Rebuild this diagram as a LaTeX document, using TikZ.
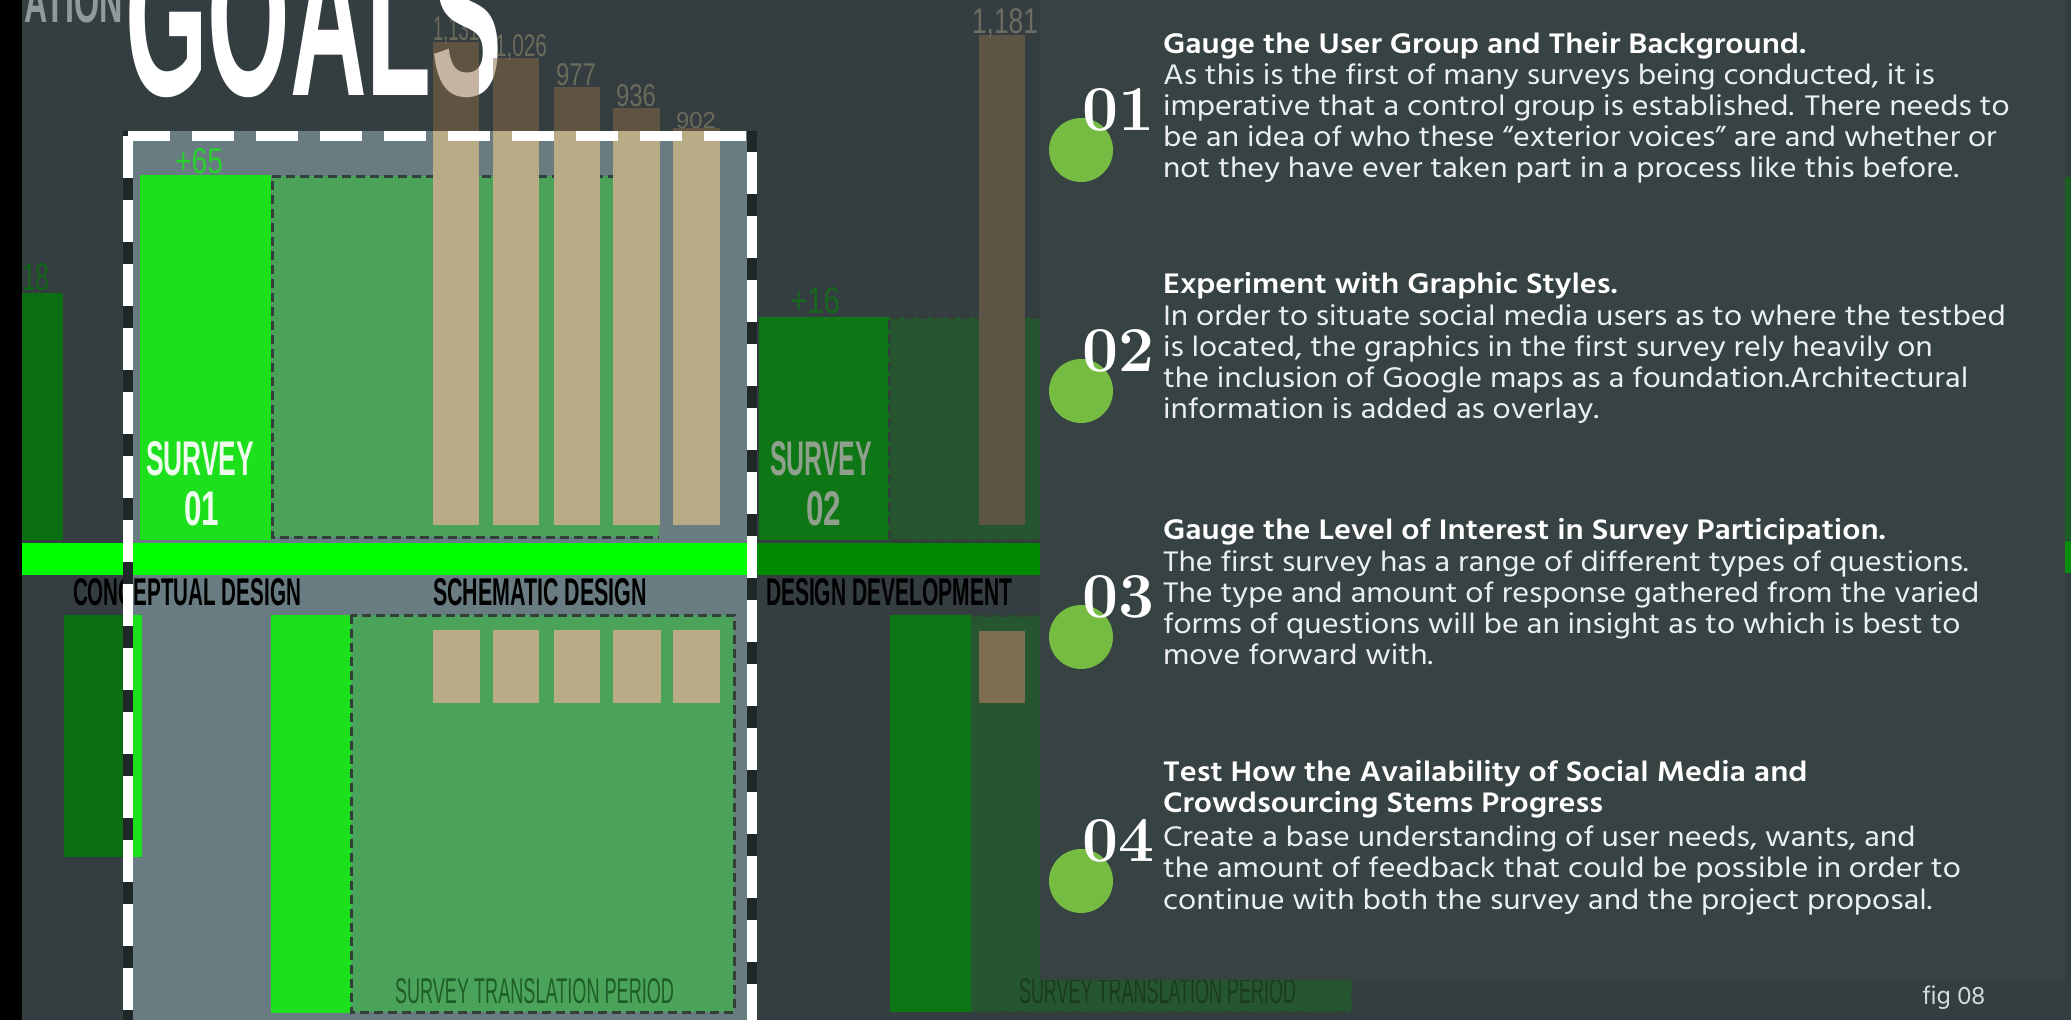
\documentclass[tikz,border=0pt]{standalone}
\usepackage{fontspec}
\usepackage{graphicx}
\newfontfamily\hind{Hind Madurai}[FakeStretch=1.11]
\newfontfamily\hindfig{Hind Madurai}
\newfontfamily\cond{Liberation Sans}
\definecolor{bg}{HTML}{343D3F}
\definecolor{panel}{HTML}{374243}
\definecolor{boxfill}{HTML}{687C81}
\definecolor{brightgreen}{HTML}{1DE01D}
\definecolor{midgreen}{HTML}{4BA35A}
\definecolor{tanbar}{HTML}{B8AB86}
\definecolor{brownbar}{HTML}{8B6B45}
\definecolor{lime}{HTML}{00FF00}
\definecolor{darklime}{HTML}{008A00}
\definecolor{sgreen}{HTML}{0E7614}
\definecolor{sregion}{HTML}{26562F}
\definecolor{leftgreen}{HTML}{0A6E12}
\definecolor{tallbar}{HTML}{5C5546}
\definecolor{dotgreen}{HTML}{76BC43}
\definecolor{dashgray}{HTML}{33403A}
\definecolor{bodytxt}{HTML}{ECEFEF}
\definecolor{edgedark}{HTML}{1F2729}
\definecolor{tpone}{HTML}{1E5E26}
\definecolor{tptwo}{HTML}{1B3B1E}
\definecolor{tansquare}{HTML}{7E6D50}
\definecolor{stripdark}{HTML}{1B5E24}
\definecolor{stripbright}{HTML}{0A8A0A}
\definecolor{figtxt}{HTML}{D5DADA}
\definecolor{s2txt}{HTML}{8FA08C}
\definecolor{talllbl}{HTML}{6B6C62}
\definecolor{titlegray}{HTML}{8F9A9C}
\tikzset{
  lbl/.style={anchor=base west, inner sep=0pt, outer sep=0pt},
  body/.style={lbl, text=bodytxt, font=\hind\fontsize{29}{31}\selectfont},
  head/.style={lbl, text=white, font=\hind\bfseries\fontsize{29}{31}\selectfont},
  num/.style={lbl, text=white, font=\fontsize{64}{64}\selectfont\bfseries},
  dot/.style={circle, fill=dotgreen, minimum size=64pt, inner sep=0pt},
  innerdash/.style={draw=dashgray, line width=3pt, dash pattern=on 9pt off 5pt},
  whitedash/.style={draw=white, line width=10pt, dash pattern=on 42pt off 22pt},
  barlabel/.style={lbl, text=tanbar, text opacity=0.42},
}
\begin{document}
\begin{tikzpicture}[x=1pt,y=-1pt]
\useasboundingbox (0,0) rectangle (2071,1020);
% background
\fill[bg] (0,0) rectangle (2071,1020);
\fill[black] (0,0) rectangle (22,1020);
% cut-off title word
\begin{scope}
\clip (22,0) rectangle (124,30);
\node[anchor=base east, inner sep=0pt, text=titlegray] (tword) at (123,22) {\resizebox{125pt}{40pt}{\cond\bfseries MATION}};
\end{scope}
% label of first bar, partly hidden by the title
\node[barlabel] (v1) at (433,40) {\resizebox{46pt}{24pt}{\cond 1,131}};
% GOALS
\node[lbl, text=white] (goals) at (125,95) {\resizebox{377pt}{160pt}{\cond\bfseries GOALS}};
% left partial survey
\fill[leftgreen] (22,293) rectangle (63,540);
\node[lbl, text=leftgreen!80!bg] (l18) at (22,290) {\resizebox{28pt}{27pt}{\cond 18}};
% highlight box fill
\fill[boxfill] (133,131) rectangle (748,1020);
% survey 01 upper
\fill[brightgreen] (140,175) rectangle (271,540);
\fill[midgreen] (272,176) rectangle (659,537);
\draw[innerdash] (659,176) -- (272,176) -- (272,537) -- (659,537);
\node[lbl, text=brightgreen!85!boxfill] (p65) at (175,173) {\resizebox{48pt}{25pt}{\cond +65}};
\node[lbl, text=white!92!brightgreen] (s1a) at (146,475) {\resizebox{108pt}{34pt}{\cond\bfseries SURVEY}};
\node[lbl, text=white!92!brightgreen] (s1b) at (184,525) {\resizebox{35pt}{34pt}{\cond\bfseries 01}};
% bars above the box
\fill[brownbar, opacity=0.5] (433,42) rectangle (479,131);
\fill[brownbar, opacity=0.5] (493,58) rectangle (539,131);
\fill[brownbar, opacity=0.5] (554,87) rectangle (600,131);
\fill[brownbar, opacity=0.5] (613,108) rectangle (660,131);
\fill[brownbar, opacity=0.5] (673,128) rectangle (720,131);
% bars inside the box
\fill[tanbar] (433,131) rectangle (479,525);
\fill[tanbar] (493,131) rectangle (539,525);
\fill[tanbar] (554,131) rectangle (600,525);
\fill[tanbar] (613,131) rectangle (660,525);
\fill[tanbar] (673,131) rectangle (720,525);
\node[barlabel] (v2) at (495,56) {\resizebox{52pt}{22pt}{\cond 1,026}};
\node[barlabel] (v3) at (556,85) {\resizebox{40pt}{22pt}{\cond 977}};
\node[barlabel] (v4) at (616,106) {\resizebox{40pt}{22pt}{\cond 936}};
\node[barlabel] (v5) at (676,128) {\resizebox{40pt}{16pt}{\cond 902}};
% survey 02 upper
\fill[sgreen] (759,317) rectangle (889,540);
\fill[sregion] (889,317) rectangle (1040,540);
\draw[innerdash] (1040,317) -- (889,317) -- (889,540) -- (1040,540);
\fill[tallbar] (979,35) rectangle (1025,525);
\node[lbl, text=talllbl] (v6) at (972,33) {\resizebox{66pt}{25pt}{\cond 1,181}};
\node[lbl, text=sgreen!75!bg] (p16) at (790,313) {\resizebox{50pt}{26pt}{\cond +16}};
\node[lbl, text=s2txt] (s2a) at (770,475) {\resizebox{102pt}{34pt}{\cond\bfseries SURVEY}};
\node[lbl, text=s2txt] (s2b) at (806,525) {\resizebox{35pt}{34pt}{\cond\bfseries 02}};
% timeline bar
\fill[lime] (22,543) rectangle (753,575);
\fill[darklime] (753,543) rectangle (1040,575);
\node[lbl, text=black] (st1) at (73,605) {\resizebox{228pt}{27pt}{\cond\bfseries CONCEPTUAL DESIGN}};
\node[lbl, text=black] (st2) at (433,605) {\resizebox{214pt}{27pt}{\cond\bfseries SCHEMATIC DESIGN}};
\node[lbl, text=black] (st3) at (766,605) {\resizebox{246pt}{27pt}{\cond\bfseries DESIGN DEVELOPMENT}};
% lower left
\fill[leftgreen] (64,615) rectangle (133,857);
\fill[brightgreen] (133,615) rectangle (142,857);
% survey 01 lower
\fill[brightgreen] (271,615) rectangle (351,1013);
\fill[midgreen] (351,615) rectangle (734,1012);
\draw[innerdash] (351,615) rectangle (734,1012);
\fill[tanbar] (433,630) rectangle (480,703);
\fill[tanbar] (493,630) rectangle (539,703);
\fill[tanbar] (554,630) rectangle (600,703);
\fill[tanbar] (613,630) rectangle (661,703);
\fill[tanbar] (673,630) rectangle (720,703);
\node[lbl, text=tpone] (tp1) at (395,1003) {\resizebox{279pt}{25pt}{\cond SURVEY TRANSLATION PERIOD}};
% survey 02 lower
\fill[sgreen] (890,615) rectangle (971,1012);
\fill[sregion] (971,615) rectangle (1352,1012);
\draw[innerdash] (971,615) -- (1352,615) -- (1352,1012) -- (971,1012);
\fill[tansquare] (979,631) rectangle (1025,703);
\node[lbl, text=tptwo] (tp2) at (1019,1003) {\resizebox{277pt}{25pt}{\cond SURVEY TRANSLATION PERIOD}};
% highlight box border
\draw[edgedark, line width=10pt] (128,131) -- (128,1020);
\draw[edgedark, line width=10pt] (752,131) -- (752,1020);
\draw[whitedash] (128,136) -- (128,1025);
\draw[whitedash] (128,136) -- (752,136) -- (752,1025);
% right text panel
\fill[panel] (1040,0) rectangle (2065,980);
\fill[stripdark] (2065,177) rectangle (2071,540);
\fill[stripbright] (2065,541) rectangle (2071,573);
% item 01
\node[dot] (c1) at (1081,150) {};
\node[num] (n1) at (1082,130) {01};
\node[head] (h1) at (1163,53) {Gauge the User Group and Their Background.};
\node[body] (b1a) at (1163,84) {As this is the first of many surveys being conducted, it is};
\node[body] (b1b) at (1163,115) {imperative that a control group is established. There needs to};
\node[body] (b1c) at (1163,146) {be an idea of who these “exterior voices” are and whether or};
\node[body] (b1d) at (1163,177) {not they have ever taken part in a process like this before.};
% item 02
\node[dot] (c2) at (1081,391) {};
\node[num] (n2) at (1082,371) {02};
\node[head] (h2) at (1163,293) {Experiment with Graphic Styles.};
\node[body] (b2a) at (1163,325) {In order to situate social media users as to where the testbed};
\node[body] (b2b) at (1163,356) {is located, the graphics in the first survey rely heavily on};
\node[body] (b2c) at (1163,387) {the inclusion of Google maps as a foundation.Architectural};
\node[body] (b2d) at (1163,418) {information is added as overlay.};
% item 03
\node[dot] (c3) at (1081,637) {};
\node[num] (n3) at (1082,617) {03};
\node[head] (h3) at (1163,539) {Gauge the Level of Interest in Survey Participation.};
\node[body] (b3a) at (1163,571) {The first survey has a range of different types of questions.};
\node[body] (b3b) at (1163,602) {The type and amount of response gathered from the varied};
\node[body] (b3c) at (1163,633) {forms of questions will be an insight as to which is best to};
\node[body] (b3d) at (1163,664) {move forward with.};
% item 04
\node[dot] (c4) at (1081,881) {};
\node[num] (n4) at (1082,861) {04};
\node[head] (h4a) at (1163,781) {Test How the Availability of Social Media and};
\node[head] (h4b) at (1163,812) {Crowdsourcing Stems Progress};
\node[body] (b4a) at (1163,846) {Create a base understanding of user needs, wants, and};
\node[body] (b4b) at (1163,877) {the amount of feedback that could be possible in order to};
\node[body] (b4c) at (1163,909) {continue with both the survey and the project proposal.};
% figure number
\node[lbl, text=figtxt, font=\hindfig\fontsize{26}{28}\selectfont] (fig) at (1922,1004) {fig 08};
\end{tikzpicture}
\end{document}
